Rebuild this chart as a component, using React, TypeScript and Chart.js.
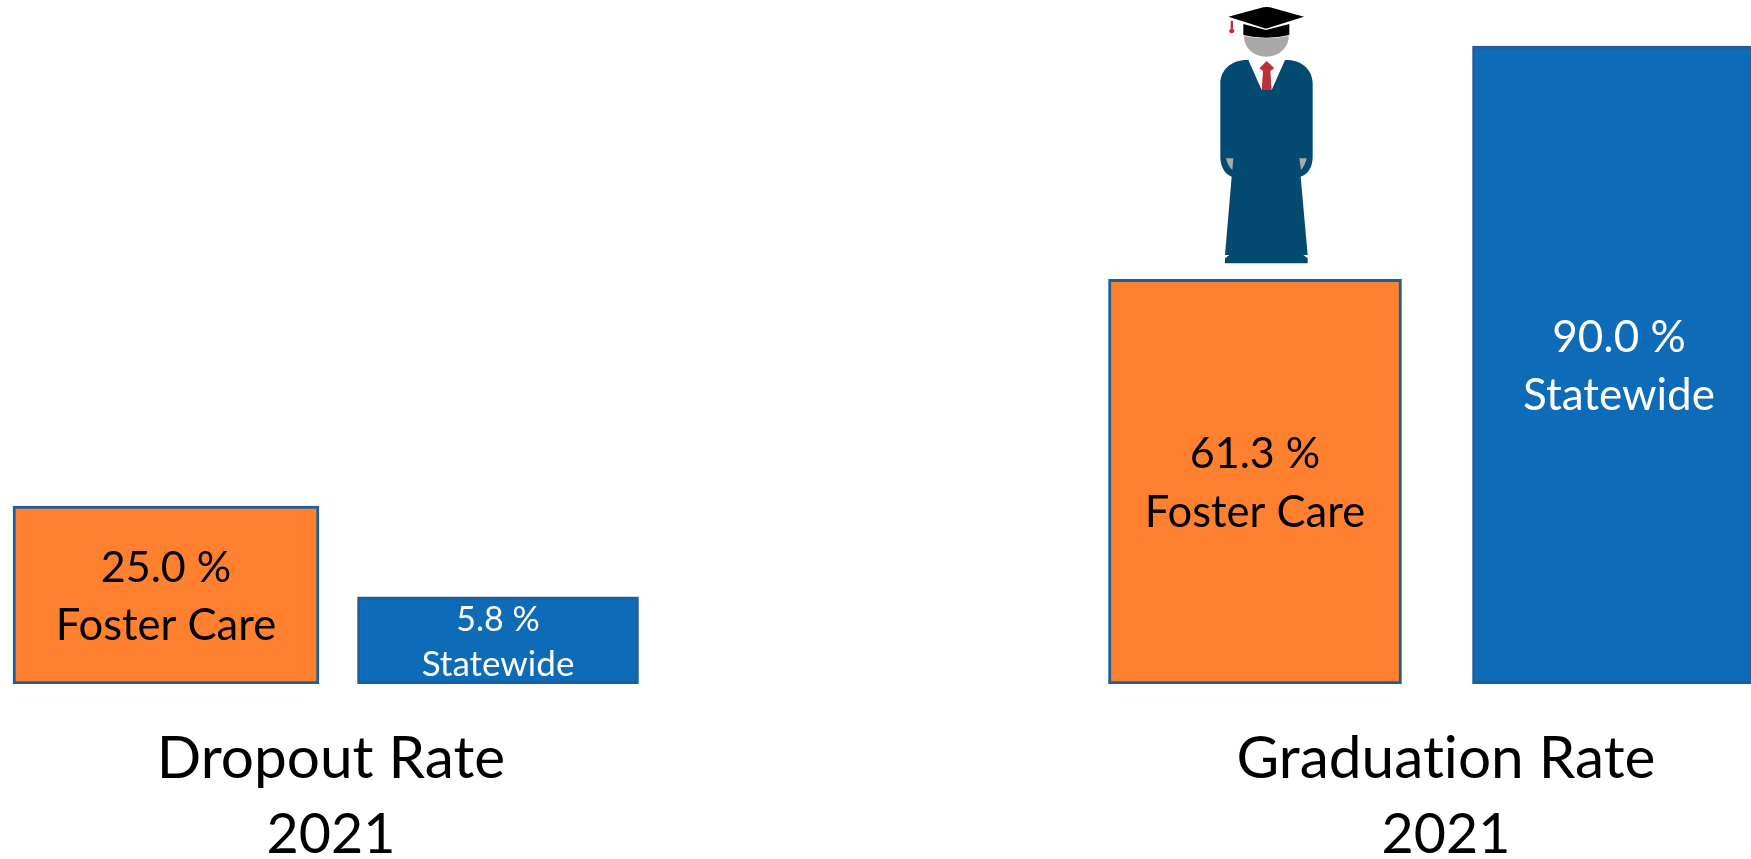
import React, { useEffect, useRef } from "react";
import { Chart, registerables } from "chart.js";

Chart.register(...registerables);

// Printed values
const groups = ["Dropout Rate", "Graduation Rate"];
const groupYear = "2021";
const seriesNames = ["Foster Care", "Statewide"];
const fosterValues = [25.0, 61.3];
const statewideValues = [5.8, 90.0];
// The reference's bars are not drawn to scale with their printed values:
// these are the bar heights, on the 90 = tallest bar scale.
const fosterHeights = [25.1, 57.1];
const statewideHeights = [12.3, 90.0];

// Layout (page pixels)
const W = 1751;
const H = 859;
const BASE_Y = 684;
const Y_MAX = 684 / (638 / 90);
const fosterCenters = [166, 1255];
const fosterWidths = [306, 293];
const stateCenters = [498, 1619];
const stateWidths = [281, 293];
const titleCenters = [331, 1446];
const labelSizes = [[43, 43.5], [34, 35], [43, 43.5], [44, 44]];

const ORANGE = "#FF8130";
const BLUE = "#0E6BB8";
const EDGE = "#1E5F9B";
const FONT = "Lato, Carlito, sans-serif";

const barSet = (label: string, x: number, y: number, w: number, color: string) => ({
  label,
  data: [{ x, y }],
  backgroundColor: color,
  borderColor: EDGE,
  borderWidth: 3,
  borderSkipped: false,
  barThickness: w,
  grouped: false,
});

const gown = new Path2D(
  "M205 180 L245 270 L275 270 L315 180 C365 178 398 210 398 250 L398 470 C398 500 385 522 362 530 L383 765 L370 765 L383 775 L383 790 L135 790 L135 775 L148 765 L135 765 L155 530 C135 522 121 500 121 470 L121 250 C121 210 155 178 205 180 Z"
);
const capTop = new Path2D("M145 50 L250 22 Q260 20 270 22 L372 50 L262 85 Q258 86 254 85 Z");
const capBand = new Path2D("M190 72 L258 90 L328 72 L328 105 Q258 122 190 105 Z");
const head = new Path2D("M192 108 Q258 122 326 108 C326 145 295 170 259 170 C223 170 192 145 192 108 Z");
const tie = new Path2D("M260 183 L283 205 L271 213 L275 270 L245 270 L249 213 L238 205 Z");
const cuffL = new Path2D("M138 475 L160 475 L157 510 C148 502 141 490 138 475 Z");
const cuffR = new Path2D("M358 475 L380 475 C377 490 370 502 363 510 Z");
const tassel = new Path2D("M152 62 L159 62 L159 88 C165 90 166 99 155 100 C145 99 146 90 152 88 Z");

const drawExtras = {
  id: "drawExtras",
  afterDatasetsDraw(chart: any) {
    const { ctx } = chart;
    ctx.save();
    ctx.textAlign = "center";
    ctx.textBaseline = "middle";
    ctx.letterSpacing = "0.01px"; // keeps Lato's "ti" ligature off

    const barText = (dsIndex: number, value: number, name: string, color: string, gap: number) => {
      const el = chart.getDatasetMeta(dsIndex).data[0];
      const midY = (el.y + el.base) / 2 + 2;
      const sizes = labelSizes[dsIndex];
      ctx.fillStyle = color;
      ctx.font = `${sizes[0]}px ${FONT}`;
      ctx.fillText(`${value.toFixed(1)} %`, el.x, midY - gap);
      ctx.font = `${sizes[1]}px ${FONT}`;
      ctx.fillText(name, el.x, midY + gap);
    };
    barText(0, fosterValues[0], seriesNames[0], "#000", 29);
    barText(1, statewideValues[0], seriesNames[1], "#fff", 22);
    barText(2, fosterValues[1], seriesNames[0], "#000", 29);
    barText(3, statewideValues[1], seriesNames[1], "#fff", 29);

    ctx.fillStyle = "#000";
    groups.forEach((g, i) => {
      ctx.font = `58.5px ${FONT}`;
      ctx.fillText(g, titleCenters[i], 759);
      ctx.font = `55.5px ${FONT}`;
      ctx.fillText(groupYear, titleCenters[i], 835);
    });

    // Graduate figure
    ctx.translate(1180, 0);
    ctx.scale(1 / 3, 1 / 3);
    ctx.fillStyle = "#034A70";
    ctx.fill(gown);
    ctx.fillStyle = "#A9A9A9";
    ctx.fill(head);
    ctx.fill(cuffL);
    ctx.fill(cuffR);
    ctx.fillStyle = "#000";
    ctx.fill(capBand);
    ctx.fill(capTop);
    ctx.fillStyle = "#BE3236";
    ctx.fill(tie);
    ctx.fill(tassel);
    ctx.restore();
  },
};

export default function App() {
  const ref = useRef<HTMLCanvasElement>(null);
  useEffect(() => {
    const chart = new Chart(ref.current!, {
      type: "bar",
      data: {
        datasets: [
          barSet(`${groups[0]} ${seriesNames[0]}`, fosterCenters[0], fosterHeights[0], fosterWidths[0], ORANGE),
          barSet(`${groups[0]} ${seriesNames[1]}`, stateCenters[0], statewideHeights[0], stateWidths[0], BLUE),
          barSet(`${groups[1]} ${seriesNames[0]}`, fosterCenters[1], fosterHeights[1], fosterWidths[1], ORANGE),
          barSet(`${groups[1]} ${seriesNames[1]}`, stateCenters[1], statewideHeights[1], stateWidths[1], BLUE),
        ],
      } as any,
      options: {
        animation: false,
        responsive: false,
        layout: { padding: { left: 0, right: 0, top: 0, bottom: H - BASE_Y } },
        plugins: { legend: { display: false }, tooltip: { enabled: false }, title: { display: false } },
        scales: {
          x: { type: "linear", min: 0, max: W, offset: false, display: false },
          y: { type: "linear", min: 0, max: Y_MAX, display: false },
        },
      } as any,
      plugins: [drawExtras],
    });
    return () => chart.destroy();
  }, []);
  return (
    <div style={{ position: "absolute", left: 0, top: 0, width: W, height: H, overflow: "hidden", background: "#fff" }}>
      <canvas ref={ref} width={W} height={H} style={{ display: "block" }} />
    </div>
  );
}
